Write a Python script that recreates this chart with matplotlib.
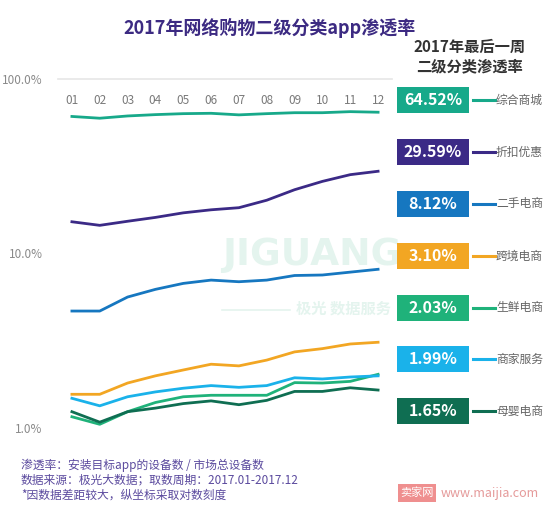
import numpy as np
import matplotlib
matplotlib.use("Agg")
import matplotlib.pyplot as plt
from matplotlib.patches import Rectangle
from matplotlib.lines import Line2D

plt.rcParams['font.family'] = ['Noto Sans CJK SC', 'DejaVu Sans']

months = ["01", "02", "03", "04", "05", "06", "07", "08", "09", "10", "11", "12"]
categories = ["综合商城", "折扣优惠", "二手电商", "跨境电商", "生鲜电商", "商家服务", "母婴电商"]
final_labels = ["64.52%", "29.59%", "8.12%", "3.10%", "2.03%", "1.99%", "1.65%"]
colors = ["#17a98a", "#3b2a86", "#1677c0", "#f2a623", "#1fb27a", "#1ab2ea", "#0f6e52"]

zonghe = [61.0, 59.6, 61.4, 62.5, 63.3, 63.6, 62.3, 63.3, 64.1, 64.1, 65.0, 64.5]
zhekou = [15.2, 14.5, 15.3, 16.1, 17.1, 17.8, 18.3, 20.2, 23.2, 25.9, 28.3, 29.6]
ershou = [4.68, 4.68, 5.63, 6.23, 6.74, 7.04, 6.89, 7.04, 7.48, 7.53, 7.82, 8.12]
kuajing = [1.56, 1.56, 1.81, 1.99, 2.15, 2.32, 2.27, 2.45, 2.73, 2.85, 3.03, 3.10]
shengxian = [1.16, 1.05, 1.24, 1.40, 1.51, 1.54, 1.54, 1.54, 1.82, 1.81, 1.85, 2.03]
shangjia = [1.48, 1.34, 1.51, 1.61, 1.69, 1.75, 1.71, 1.75, 1.94, 1.91, 1.96, 1.99]
muying = [1.24, 1.08, 1.24, 1.30, 1.38, 1.43, 1.36, 1.44, 1.62, 1.62, 1.70, 1.65]
series = [zonghe, zhekou, ershou, kuajing, shengxian, shangjia, muying]

ytick_vals = [1, 10, 100]
ytick_labels = ["1.0%", "10.0%", "100.0%"]

W, H = 557, 512
fig = plt.figure(figsize=(W / 100, H / 100), dpi=100)
fig.patch.set_facecolor("white")

# faint watermark
fig.text(222 / W, 1 - 255 / H, "JIGUANG", color="#e4f4ee", fontsize=27, fontweight="bold",
         ha="left", va="center", zorder=0, family=["DejaVu Sans"])
fig.add_artist(Line2D([222 / W, 290 / W], [1 - 310 / H, 1 - 310 / H], color="#e4f4ee", lw=1.2, zorder=0))
fig.text(296 / W, 1 - 309 / H, "极光 数据服务", color="#e4f4ee", fontsize=11, fontweight="bold",
         ha="left", va="center", zorder=0)

ax = fig.add_axes([58 / W, 1 - 428 / H, (392 - 58) / W, (428 - 79) / H])
ax.set_facecolor("none")
x = np.arange(1, len(months) + 1)
for vals, c in zip(series, colors):
    ax.plot(x, vals, color=c, lw=2.0, solid_joinstyle="round", zorder=3)

ax.set_yscale("log")
ax.set_ylim(1, 100)
ax.set_xlim(0.5, 12.5)
ax.set_yticks(ytick_vals)
ax.set_yticklabels(ytick_labels)
ax.yaxis.set_minor_locator(matplotlib.ticker.NullLocator())
ax.tick_params(axis="y", length=0, labelsize=8.5, labelcolor="#8a8a8a", pad=11)
ax.set_xticks(x)
ax.set_xticklabels(months)
ax.tick_params(axis="x", bottom=False, labelbottom=False, top=False, labeltop=True,
               length=0, pad=-20, labelsize=8.5, labelcolor="#7a7a7a")
for s in ["left", "right", "bottom"]:
    ax.spines[s].set_visible(False)
ax.spines["top"].set_color("#e6e6e6")
ax.spines["top"].set_linewidth(1.2)

# title
fig.text(270 / W, 1 - 28 / H, "2017年网络购物二级分类app渗透率", color="#3c2a82",
         fontsize=13, fontweight="bold", ha="center", va="center")
fig.text(470 / W, 1 - 57 / H, "2017年最后一周\n二级分类渗透率", color="#333333",
         fontsize=11, fontweight="bold", ha="center", va="center", linespacing=1.25)

# right side legend boxes
centers = [100, 152, 204, 256, 308, 359, 411]
for cy, lab, cat, c in zip(centers, final_labels, categories, colors):
    fig.add_artist(Rectangle((397 / W, 1 - (cy + 13) / H), 72 / W, 26 / H,
                             facecolor=c, edgecolor="none", transform=fig.transFigure))
    fig.text(433 / W, 1 - cy / H, lab, color="white", fontsize=11.5, fontweight="bold",
             ha="center", va="center")
    fig.add_artist(Line2D([473 / W, 495 / W], [1 - cy / H, 1 - cy / H], color=c, lw=2.2))
    fig.text(496 / W, 1 - cy / H, cat, color="#666666", fontsize=8.5, ha="left", va="center")

# footer notes
notes = ["渗透率：安装目标app的设备数 / 市场总设备数",
         "数据来源：极光大数据；取数周期：2017.01-2017.12",
         "*因数据差距较大，纵坐标采取对数刻度"]
for i, n in enumerate(notes):
    fig.text(21 / W, 1 - (465 + 15 * i) / H, n, color="#5b4a9e", fontsize=8.5,
             style="italic", ha="left", va="center")

# maijia watermark
fig.add_artist(Rectangle((398 / W, 1 - 502 / H), 38 / W, 18 / H, facecolor="#ef8f8f",
                         edgecolor="none", transform=fig.transFigure))
fig.text(417 / W, 1 - 493 / H, "卖家网", color="white", fontsize=8, ha="center", va="center")
fig.text(441 / W, 1 - 493 / H, "www.maijia.com", color="#e59a9a", fontsize=9, ha="left", va="center")

fig.savefig("out.png", dpi=100, facecolor="white")
